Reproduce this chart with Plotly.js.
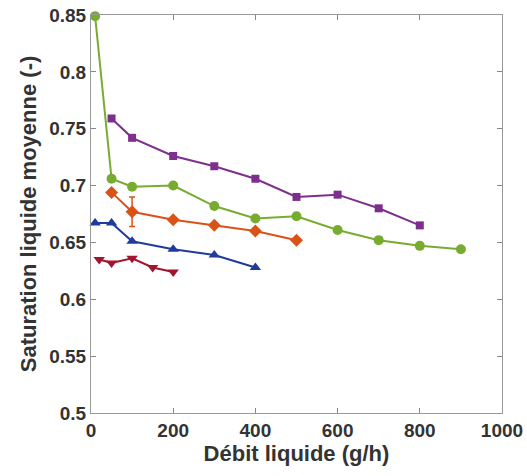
<!DOCTYPE html>
<html><head><meta charset="utf-8">
<script src="https://cdn.plot.ly/plotly-3.0.1.min.js"></script>
<style>html,body{margin:0;padding:0;background:#fff}</style>
</head><body>
<div id="chart" style="width:527px;height:476px"></div>
<script>
const greenX = [10, 50, 100, 200, 300, 400, 500, 600, 700, 800, 900];
const greenY = [0.849, 0.706, 0.699, 0.700, 0.682, 0.671, 0.673, 0.661, 0.652, 0.647, 0.644];
const purpleX = [50, 100, 200, 300, 400, 500, 600, 700, 800];
const purpleY = [0.759, 0.742, 0.726, 0.717, 0.706, 0.690, 0.692, 0.680, 0.665];
const orangeX = [50, 100, 200, 300, 400, 500];
const orangeY = [0.694, 0.677, 0.670, 0.665, 0.660, 0.652];
const orangeErr = [0, 0.013, 0, 0, 0, 0];
const blueX = [10, 50, 100, 200, 300, 400];
const blueY = [0.667, 0.667, 0.651, 0.644, 0.639, 0.628];
const redX = [20, 50, 100, 150, 200];
const redY = [0.635, 0.632, 0.636, 0.628, 0.624];
const xTicks = [0, 200, 400, 600, 800, 1000];
const yTicks = [0.5, 0.55, 0.6, 0.65, 0.7, 0.75, 0.8, 0.85];

function tr(x, y, color, symbol, size, extra) {
  return Object.assign({
    x: x, y: y, type: 'scatter', mode: 'lines+markers', cliponaxis: false,
    line: {color: color, width: 2},
    marker: {color: color, symbol: symbol, size: size},
    showlegend: false, hoverinfo: 'skip'
  }, extra || {});
}
const data = [
  tr(purpleX, purpleY, '#7E2F8E', 'square', 8),
  tr(greenX, greenY, '#77AC30', 'circle', 10),
  tr(orangeX, orangeY, '#D95319', 'diamond', 10, {
    error_y: {type: 'data', array: orangeErr, visible: true, color: '#D95319', thickness: 1.5, width: 3}
  }),
  tr(blueX, blueY, '#1F3C9B', 'triangle-up', 10),
  tr(redX, redY, '#A2142F', 'triangle-down', 10)
];
const fam = 'Liberation Sans, Arial, sans-serif';
const tickFont = {family: fam, size: 19, color: '#333', weight: 'bold'};
const titleFont = {family: fam, size: 22, color: '#333', weight: 'bold'};
const layout = {
  width: 527, height: 476,
  margin: {l: 91, r: 25, t: 15, b: 63},
  paper_bgcolor: '#fff', plot_bgcolor: '#fff',
  font: tickFont,
  xaxis: {
    range: [0, 1000], tickvals: xTicks, ticktext: xTicks.map(String),
    ticks: 'inside', ticklen: 5, tickcolor: '#888', showline: true, linecolor: '#999', linewidth: 1,
    mirror: 'ticks', showgrid: false, zeroline: false, tickfont: tickFont,
    title: {text: 'Débit liquide (g/h)', font: titleFont, standoff: 4}
  },
  yaxis: {
    range: [0.5, 0.85], tickvals: yTicks, ticktext: yTicks.map(v => String(v)),
    ticks: 'inside', ticklen: 5, tickcolor: '#888', showline: true, linecolor: '#999', linewidth: 1,
    mirror: 'ticks', showgrid: false, zeroline: false, tickfont: tickFont,
    title: {text: 'Saturation liquide moyenne (-)', font: titleFont, standoff: 6}
  }
};
Plotly.newPlot('chart', data, layout, {displayModeBar: false, staticPlot: true});
</script>
</body></html>
